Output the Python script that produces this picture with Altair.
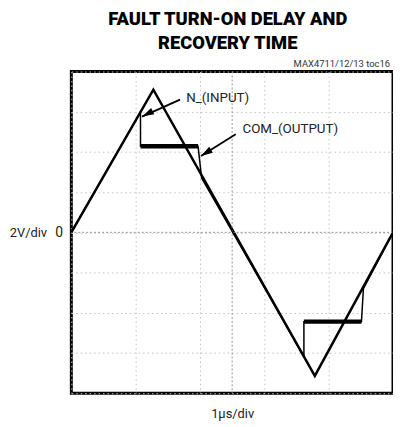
import altair as alt
import pandas as pd

# Oscilloscope trace values, in divisions (x: 1us/div, y: 2V/div)
in_t = [0.0, 2.55, 7.57, 10.0]
in_v = [0.0, 3.55, -3.57, 0.0]

out_t = [0.0, 2.15, 2.15, 3.94, 4.05, 7.23, 7.23, 9.02, 9.08, 10.0]
out_v = [0.0, 3.00, 2.14, 2.14, 1.35, -3.09, -2.22, -2.22, -1.40, 0.0]

# hold (clamped) segments of the output, drawn thick
hold_t1 = [2.15, 7.23]
hold_t2 = [3.94, 9.02]
hold_v = [2.14, -2.22]

# annotations
lab_text = ["N_(INPUT)", "COM_(OUTPUT)"]
lab_t = [3.57, 5.32]
lab_v = [3.33, 2.56]
arr_t1 = [3.38, 5.11]
arr_v1 = [3.30, 2.44]
arr_t2 = [2.20, 4.03]
arr_v2 = [2.88, 1.90]
arr_ang = [243, 238]

title_lines = ["FAULT TURN-ON DELAY AND", "RECOVERY TIME"]
note_text = ["MAX4711/12/13 toc16"]

xgrid = list(range(0, 11))
ygrid = list(range(-4, 5))

FONT = "Roboto, Liberation Sans, sans-serif"

W, H = 325, 325
xs = alt.Scale(domain=[0, 10], nice=False, zero=False)
ys = alt.Scale(domain=[-4, 4], nice=False, zero=False)

df_in = pd.DataFrame({"t": in_t, "v": in_v, "o": range(len(in_t))})
df_out = pd.DataFrame({"t": out_t, "v": out_v, "o": range(len(out_t))})
df_hold = pd.DataFrame({"t1": hold_t1, "t2": hold_t2, "v": hold_v})
df_lab = pd.DataFrame({"text": lab_text, "t": lab_t, "v": lab_v})
df_arr = pd.DataFrame({"t1": arr_t1, "v1": arr_v1, "t2": arr_t2, "v2": arr_v2, "ang": arr_ang})

xaxis = alt.Axis(values=xgrid, grid=True, gridColor="#c4c4c4", gridDash=[1.5, 3], gridWidth=1,
                 labels=False, ticks=False, domain=False, title="1µs/div",
                 titleFont=FONT, titleFontSize=13, titleFontWeight="normal", titleColor="#222",
                 titlePadding=15)
yaxis = alt.Axis(values=ygrid, grid=True, gridColor="#c4c4c4", gridDash=[1.5, 3], gridWidth=1,
                 labelExpr="datum.value == 0 ? '0' : ''", labelFont=FONT, labelFontSize=14,
                 labelColor="#222", labelPadding=9, ticks=False, domain=False,
                 title="2V/div", titleAngle=0, titleFont=FONT, titleFontSize=13,
                 titleFontWeight="normal", titleColor="#222", titleAlign="right",
                 titleBaseline="middle", titleX=-25, titleY=H / 2)

base_in = alt.Chart(df_in).mark_line(color="black", strokeWidth=2.5).encode(
    x=alt.X("t:Q", scale=xs, axis=xaxis),
    y=alt.Y("v:Q", scale=ys, axis=yaxis),
    order="o:O",
)

center_v = alt.Chart(pd.DataFrame({"t": [5]})).mark_rule(color="#999", strokeDash=[2, 2], strokeWidth=1).encode(
    x=alt.X("t:Q", scale=xs))
center_h = alt.Chart(pd.DataFrame({"v": [0]})).mark_rule(color="#999", strokeDash=[2, 2], strokeWidth=1).encode(
    y=alt.Y("v:Q", scale=ys))

out_line = alt.Chart(df_out).mark_line(color="black", strokeWidth=1.5).encode(
    x=alt.X("t:Q", scale=xs), y=alt.Y("v:Q", scale=ys), order="o:O")

holds = alt.Chart(df_hold).mark_rule(color="black", strokeWidth=4.5).encode(
    x=alt.X("t1:Q", scale=xs), x2="t2:Q", y=alt.Y("v:Q", scale=ys))

labels = alt.Chart(df_lab).mark_text(font=FONT, fontSize=13.5, align="left", baseline="middle",
                                      color="#222").encode(
    x=alt.X("t:Q", scale=xs), y=alt.Y("v:Q", scale=ys), text="text:N")

shafts = alt.Chart(df_arr).mark_rule(color="black", strokeWidth=1.8).encode(
    x=alt.X("t1:Q", scale=xs), y=alt.Y("v1:Q", scale=ys), x2="t2:Q", y2="v2:Q")

heads = alt.Chart(df_arr).mark_point(shape="M0,0L0.38,1.3L-0.38,1.3Z", filled=True, color="black",
                                     size=340, opacity=1).encode(
    x=alt.X("t2:Q", scale=xs), y=alt.Y("v2:Q", scale=ys), angle=alt.Angle("ang:Q", scale=None))

note = alt.Chart(pd.DataFrame({"text": note_text})).mark_text(
    font=FONT, fontSize=9.5, align="right", baseline="bottom", color="#333").encode(
    x=alt.value(W - 3), y=alt.value(-3), text="text:N")

title1 = alt.Chart(pd.DataFrame({"text": [title_lines[0]]})).mark_text(
    font=FONT, fontSize=18.5, fontWeight=900, align="center", baseline="alphabetic", color="black").encode(
    x=alt.value(158), y=alt.value(-47), text="text:N")
title2 = alt.Chart(pd.DataFrame({"text": [title_lines[1]]})).mark_text(
    font=FONT, fontSize=18.5, fontWeight=900, align="center", baseline="alphabetic", color="black").encode(
    x=alt.value(158), y=alt.value(-23), text="text:N")

chart = alt.layer(base_in, center_v, center_h, out_line, holds, shafts, heads, labels, note,
                  title1, title2).properties(
    width=W, height=H,
    autosize=alt.AutoSizeParams(type="none"),
    padding={"left": 64, "top": 62, "right": 0, "bottom": 36},
).configure_view(stroke="black", strokeWidth=3)

chart.save("out.html", embed_options={"renderer": "svg", "actions": False})
